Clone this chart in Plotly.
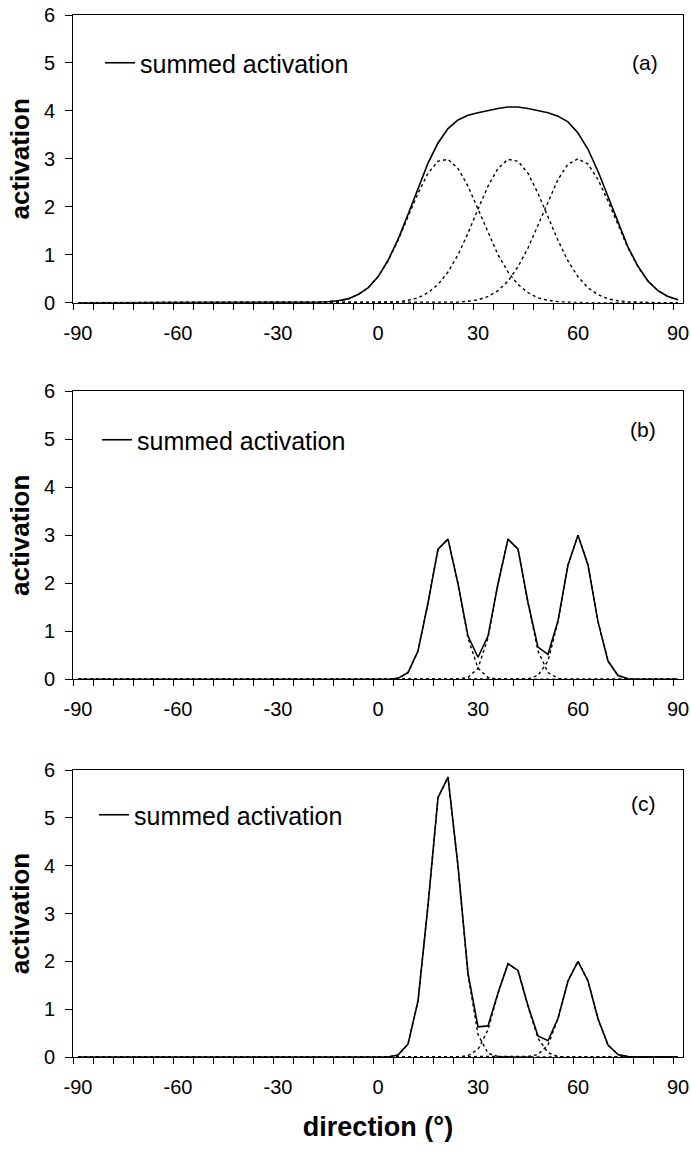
import plotly.graph_objects as go

# ---------------- data ----------------
direction = list(range(-90, 91, 3))          # 61 sampled directions (deg)
x_tick_vals = [-90, -60, -30, 0, 30, 60, 90]
x_tick_text = ["-90", "-60", "-30", "0", "30", "60", "90"]
y_tick_vals = [0, 1, 2, 3, 4, 5, 6]
panel_labels = ["(a)", "(b)", "(c)"]
legend_name = "summed activation"

# panel (a): broad tuning curves
a_unit1 = [0, 0, 0, 0, 0, 0, 0, 0, 0, 0, 0, 0, 0, 0, 0, 0, 0, 0, 0, 0, 0, 0, 0, 0,
           0.01, 0.02, 0.04, 0.08, 0.17, 0.31, 0.54, 0.87, 1.30, 1.79, 2.28, 2.70, 2.95,
           2.99, 2.80, 2.43, 1.95, 1.45, 1.00, 0.64, 0.38, 0.21, 0.10, 0.05, 0.02, 0.01,
           0, 0, 0, 0, 0, 0, 0, 0, 0, 0, 0]
a_unit2 = [0, 0, 0, 0, 0, 0, 0, 0, 0, 0, 0, 0, 0, 0, 0, 0, 0, 0, 0, 0, 0, 0, 0, 0, 0, 0, 0, 0, 0, 0,
           0, 0.01, 0.02, 0.05, 0.10, 0.21, 0.38, 0.64, 1.00, 1.45, 1.95, 2.43, 2.80, 2.99,
           2.95, 2.70, 2.28, 1.79, 1.30, 0.87, 0.54, 0.31, 0.17, 0.08, 0.04, 0.02, 0.01,
           0, 0, 0, 0]
a_unit3 = [0, 0, 0, 0, 0, 0, 0, 0, 0, 0, 0, 0, 0, 0, 0, 0, 0, 0, 0, 0, 0, 0, 0, 0, 0, 0, 0, 0, 0, 0,
           0, 0, 0, 0, 0, 0, 0, 0,
           0.01, 0.03, 0.06, 0.13, 0.25, 0.45, 0.75, 1.14, 1.62, 2.12, 2.57, 2.89, 3.00,
           2.89, 2.57, 2.12, 1.62, 1.14, 0.75, 0.45, 0.25, 0.13, 0.06]
a_sum = [0, 0, 0, 0, 0, 0, 0, 0, 0, 0, 0, 0, 0, 0, 0, 0, 0, 0, 0, 0, 0, 0, 0, 0,
         0.01, 0.02, 0.04, 0.08, 0.17, 0.31, 0.54, 0.88, 1.32, 1.84, 2.38, 2.91, 3.33,
         3.63, 3.81, 3.91, 3.96, 4.01, 4.05, 4.08, 4.08, 4.05, 4.00, 3.96, 3.89, 3.77,
         3.54, 3.20, 2.74, 2.20, 1.66, 1.16, 0.76, 0.45, 0.25, 0.13, 0.06]

# panel (b): narrow tuning curves, equal amplitude
b_unit1 = [0, 0, 0, 0, 0, 0, 0, 0, 0, 0, 0, 0, 0, 0, 0, 0, 0, 0, 0, 0, 0, 0, 0, 0, 0, 0, 0, 0, 0, 0, 0, 0,
           0.02, 0.14, 0.59, 1.59, 2.71, 2.92, 1.99, 0.86, 0.23, 0.04,
           0, 0, 0, 0, 0, 0, 0, 0, 0, 0, 0, 0, 0, 0, 0, 0, 0, 0, 0]
b_unit2 = [0, 0, 0, 0, 0, 0, 0, 0, 0, 0, 0, 0, 0, 0, 0, 0, 0, 0, 0, 0, 0, 0, 0, 0, 0, 0, 0, 0, 0, 0,
           0, 0, 0, 0, 0, 0, 0, 0, 0,
           0.04, 0.23, 0.86, 1.99, 2.92, 2.71, 1.59, 0.59, 0.14, 0.02,
           0, 0, 0, 0, 0, 0, 0, 0, 0, 0, 0, 0]
b_unit3 = [0, 0, 0, 0, 0, 0, 0, 0, 0, 0, 0, 0, 0, 0, 0, 0, 0, 0, 0, 0, 0, 0, 0, 0, 0, 0, 0, 0, 0, 0,
           0, 0, 0, 0, 0, 0, 0, 0, 0, 0, 0, 0, 0, 0, 0,
           0.01, 0.08, 0.38, 1.20, 2.38, 3.00, 2.38, 1.20, 0.38, 0.08, 0.01,
           0, 0, 0, 0, 0]
b_sum = [0, 0, 0, 0, 0, 0, 0, 0, 0, 0, 0, 0, 0, 0, 0, 0, 0, 0, 0, 0, 0, 0, 0, 0, 0, 0, 0, 0, 0, 0, 0, 0,
         0.02, 0.14, 0.59, 1.59, 2.71, 2.92, 1.99, 0.90, 0.46, 0.90, 1.99, 2.92, 2.71, 1.60,
         0.67, 0.52, 1.22, 2.38, 3.00, 2.38, 1.20, 0.38, 0.08, 0.01,
         0, 0, 0, 0, 0]

# panel (c): narrow tuning curves, first one amplified
c_unit1 = [0, 0, 0, 0, 0, 0, 0, 0, 0, 0, 0, 0, 0, 0, 0, 0, 0, 0, 0, 0, 0, 0, 0, 0, 0, 0, 0, 0, 0, 0, 0, 0,
           0.04, 0.27, 1.17, 3.17, 5.42, 5.85, 3.99, 1.72, 0.47, 0.08, 0.01,
           0, 0, 0, 0, 0, 0, 0, 0, 0, 0, 0, 0, 0, 0, 0, 0, 0, 0]
c_unit2 = [0, 0, 0, 0, 0, 0, 0, 0, 0, 0, 0, 0, 0, 0, 0, 0, 0, 0, 0, 0, 0, 0, 0, 0, 0, 0, 0, 0, 0, 0,
           0, 0, 0, 0, 0, 0, 0, 0, 0,
           0.03, 0.16, 0.57, 1.33, 1.95, 1.81, 1.06, 0.39, 0.09, 0.01,
           0, 0, 0, 0, 0, 0, 0, 0, 0, 0, 0, 0]
c_unit3 = [0, 0, 0, 0, 0, 0, 0, 0, 0, 0, 0, 0, 0, 0, 0, 0, 0, 0, 0, 0, 0, 0, 0, 0, 0, 0, 0, 0, 0, 0,
           0, 0, 0, 0, 0, 0, 0, 0, 0, 0, 0, 0, 0, 0, 0,
           0.01, 0.05, 0.25, 0.80, 1.59, 2.00, 1.59, 0.80, 0.25, 0.05, 0.01,
           0, 0, 0, 0, 0]
c_sum = [0, 0, 0, 0, 0, 0, 0, 0, 0, 0, 0, 0, 0, 0, 0, 0, 0, 0, 0, 0, 0, 0, 0, 0, 0, 0, 0, 0, 0, 0, 0, 0,
         0.04, 0.27, 1.17, 3.17, 5.42, 5.85, 3.99, 1.75, 0.63, 0.65, 1.34, 1.95, 1.81, 1.07,
         0.44, 0.34, 0.81, 1.59, 2.00, 1.59, 0.80, 0.25, 0.05, 0.01,
         0, 0, 0, 0, 0]

panels = [
    (a_unit1, a_unit2, a_unit3, a_sum),
    (b_unit1, b_unit2, b_unit3, b_sum),
    (c_unit1, c_unit2, c_unit3, c_sum),
]

# ---------------- layout geometry ----------------
W, H = 691, 1153
M_L, M_R, M_T, M_B = 73, 8, 15, 96
PH = H - M_T - M_B
def py(px):  # pixel row -> paper fraction
    return (H - M_B - px) / PH
def pxx(px):
    return (px - M_L) / (W - M_L - M_R)

domains = [[py(302.7), py(15)], [py(679.3), py(391.3)], [py(1057), py(770)]]
legend_y = [63, 440, 815]
legend_x = [100, 97, 94]
label_pos = [(645, 63), (643, 429), (643, 803)]

FONT = "Arial, 'Liberation Sans', sans-serif"

fig = go.Figure()
for k, (u1, u2, u3, s) in enumerate(panels):
    xa = "x" if k == 0 else f"x{k+1}"
    ya = "y" if k == 0 else f"y{k+1}"
    lg = "legend" if k == 0 else f"legend{k+1}"
    for u in (u1, u2, u3):
        fig.add_trace(go.Scatter(x=direction, y=u, mode="lines", xaxis=xa, yaxis=ya,
                                 line=dict(color="black", width=1.4, dash="dot"),
                                 showlegend=False, hoverinfo="skip"))
    fig.add_trace(go.Scatter(x=direction, y=s, mode="lines", xaxis=xa, yaxis=ya,
                             name=legend_name, legend=lg,
                             line=dict(color="black", width=1.6), showlegend=True))

layout = dict(
    width=W, height=H,
    margin=dict(l=M_L, r=M_R, t=M_T, b=M_B, autoexpand=False),
    paper_bgcolor="white", plot_bgcolor="white",
    font=dict(family=FONT, color="black"),
    annotations=[],
)
for k in range(3):
    xk = "xaxis" if k == 0 else f"xaxis{k+1}"
    yk = "yaxis" if k == 0 else f"yaxis{k+1}"
    yref = "y" if k == 0 else f"y{k+1}"
    xref = "x" if k == 0 else f"x{k+1}"
    xax = dict(
        domain=[0, 1], anchor=yref, range=[-91.5, 91.5], automargin=False,
        tickmode="array", tickvals=x_tick_vals, ticktext=x_tick_text, ticks="",
        tickfont=dict(size=20, family=FONT), ticklabelstandoff=12,
        showline=True, linecolor="black", linewidth=1, mirror=True,
        showgrid=False, zeroline=False,
        minor=dict(ticks="outside", ticklen=6, tickwidth=1, tickcolor="black",
                   tick0=-91.5, dtick=6, showgrid=False),
    )
    if k == 2:
        xax["title"] = dict(text="direction (°)", standoff=20,
                            font=dict(size=27, family=FONT, weight="bold"))
    yax = dict(
        domain=domains[k], anchor=xref, range=[0, 6], automargin=False,
        tickmode="array", tickvals=y_tick_vals,
        ticks="outside", ticklen=7, tickwidth=1, tickcolor="black",
        tickfont=dict(size=20, family=FONT), ticklabelstandoff=6,
        showline=True, linecolor="black", linewidth=1, mirror=True,
        showgrid=False, zeroline=False,
        title=dict(text="activation", standoff=6,
                   font=dict(size=26, family=FONT, weight="bold")),
    )
    layout[xk] = xax
    layout[yk] = yax
    lgk = "legend" if k == 0 else f"legend{k+1}"
    layout[lgk] = dict(x=pxx(legend_x[k]), y=py(legend_y[k]), xanchor="left", yanchor="middle",
                       bgcolor="rgba(0,0,0,0)", borderwidth=0,
                       font=dict(size=25, family=FONT), itemwidth=30)
    lx, ly = label_pos[k]
    layout["annotations"].append(dict(
        text=panel_labels[k], x=pxx(lx), y=py(ly), xref="paper", yref="paper",
        xanchor="center", yanchor="middle", showarrow=False,
        font=dict(size=21, family=FONT)))

fig.update_layout(**layout)
fig.write_html("out.html", config={"displayModeBar": False},
               post_script="document.body.style.margin='0';")
